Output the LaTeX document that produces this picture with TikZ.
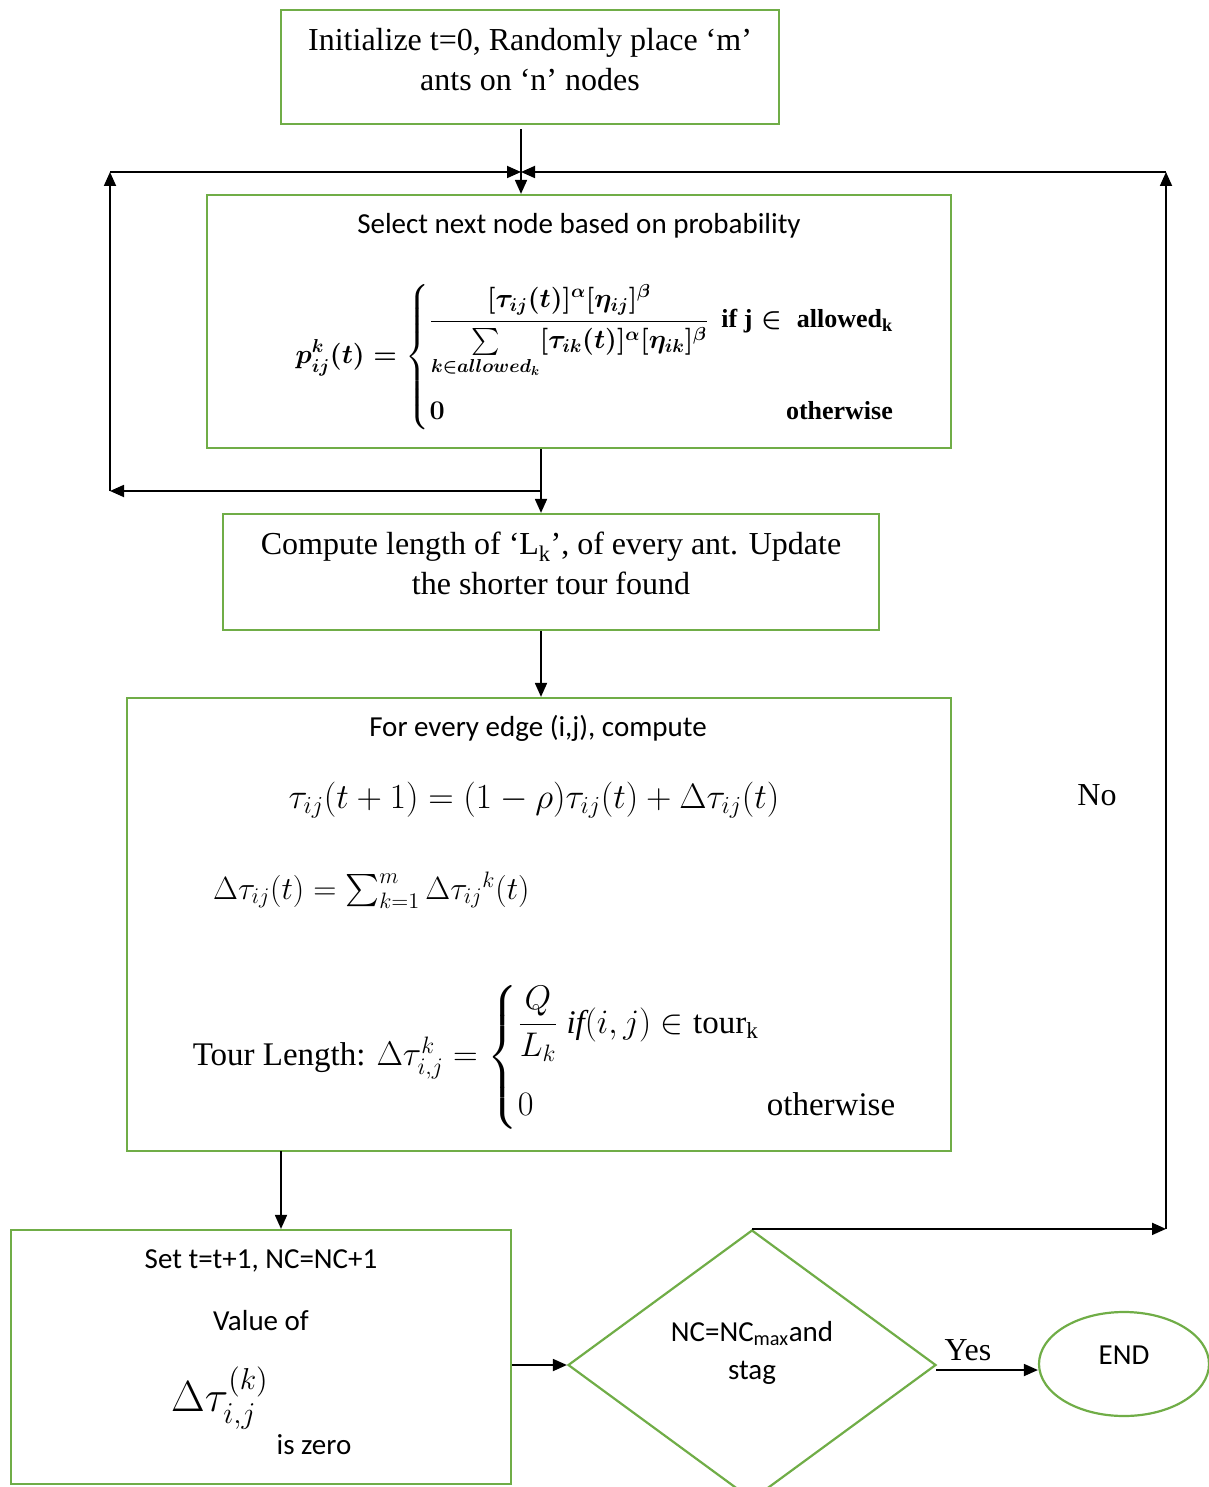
\documentclass[tikz,border=0pt]{standalone}
\usepackage{amsmath}
\usepackage{graphicx}
\usepackage{fontspec}
\setmainfont{Liberation Serif}
\newfontfamily\calfont{Carlito}
\usetikzlibrary{shapes.geometric,arrows.meta}
\newsavebox\fone
\newsavebox\ffour
\begin{document}
\sbox\fone{\fontsize{20}{24}\selectfont\boldmath$\displaystyle
 p^k_{ij}(t)=\left\{\begin{array}{@{}l@{\ \ }r@{}}
 \dfrac{[\tau_{ij}(t)]^\alpha[\eta_{ij}]^\beta}{\sum\limits_{k\in allowed_k}[\tau_{ik}(t)]^\alpha[\eta_{ik}]^\beta} & \textbf{if j}\in\textbf{ allowed}_\textbf{k}\\
 \rule{0pt}{32pt}\mathbf{0} & \textbf{otherwise}
 \end{array}\right.$}%
\sbox\ffour{\fontsize{20}{24}\selectfont Tour Length: $\Delta\tau^k_{i,j}=\left\{\begin{array}{@{}l@{\ }r@{}}
 \dfrac{Q}{L_k}\ \mathit{if}(i,j)\in\text{tour}_\text{k} & \\[26pt]
 0 & \text{otherwise}
 \end{array}\right.$}%
\begin{tikzpicture}[x=1pt,y=-1pt,
  gbox/.style={draw=grn,line width=2.2pt,inner sep=0pt},
  arr/.style={line width=1.8pt,-{Triangle[length=14pt,width=12pt]}},
  tms/.style={font=\fontsize{32}{40}\selectfont,align=center,inner sep=0pt},
  cbr/.style={font=\calfont\fontsize{29}{38}\selectfont,align=center,inner sep=0pt}]
\definecolor{grn}{RGB}{112,173,71}
\useasboundingbox (0,0) rectangle (1208,1487);
% boxes
\node[gbox,minimum width=498pt,minimum height=114pt] (init) at (530,67) {};
\node[tms] (initt) at (530,60) {Initialize t=0, Randomly place ‘m’\\ants on ‘n’ nodes};
\node[gbox,minimum width=744pt,minimum height=253pt] (sel) at (579,321.5) {};
\node[cbr] (selt) at (579,226) {Select next node based on probability};
\node[inner sep=0pt] (f1) at (595,357) {\scalebox{1.3}{\usebox\fone}};
\node[gbox,minimum width=656pt,minimum height=116pt] (comp) at (551,572) {};
\node[tms] (compt) at (551,563) {Compute length of ‘L\textsubscript{k}’, of every ant. Update\\the shorter tour found};
\node[gbox,minimum width=824pt,minimum height=453pt] (edge) at (539,924.5) {};
\node[cbr] (edget) at (538,728) {For every edge (i,j), compute};
\node[inner sep=0pt] (f2) at (534,800) {\scalebox{1.7}{\fontsize{20}{24}\selectfont$\tau_{ij}(t+1)=(1-\rho)\tau_{ij}(t)+\Delta\tau_{ij}(t)$}};
\node[inner sep=0pt,anchor=west] (f3) at (213,890) {\scalebox{1.55}{\fontsize{20}{24}\selectfont$\Delta\tau_{ij}(t)=\sum_{k=1}^{m}\Delta\tau_{ij}{}^{k}(t)$}};
\node[inner sep=0pt] (f4) at (545,1057) {\scalebox{1.65}{\usebox\ffour}};
\node[gbox,minimum width=500pt,minimum height=254pt] (set) at (261,1357) {};
\node[cbr] (sett1) at (261,1261) {Set t=t+1, NC=NC+1};
\node[cbr] (sett2) at (261,1321) {Value of};
\node[inner sep=0pt] (sett3) at (220,1398) {\scalebox{2.1}{\fontsize{20}{24}\selectfont$\Delta\tau^{(k)}_{i,j}$}};
\node[cbr] (sett4) at (314,1445) {is zero};
\node[draw=grn,line width=2.2pt,diamond,minimum width=368pt,minimum height=270pt,inner sep=0pt] (dia) at (752,1365) {};
\node[cbr] (diat) at (752,1353) {NC=NC\textsubscript{max}and\\stag};
\node[draw=grn,line width=2.2pt,ellipse,minimum width=170pt,minimum height=104pt,inner sep=0pt] (end) at (1124,1364) {};
\node[cbr] (endt) at (1124,1355) {END};
\node[tms] (no) at (1097,795) {No};
\node[tms] (yes) at (968,1350) {Yes};
% coordinates
\coordinate (jn) at (521,172);
\coordinate (cx) at (541,491);
\coordinate (L1) at (110,491);
\coordinate (L2) at (110,172);
\coordinate (R2) at (1166,172);
\coordinate (R1) at (dia.north -| R2);
\coordinate (sx) at (281,1151);
\coordinate (yx) at (936,1370);
% connectors
\draw[arr] ([yshift=-4pt]init.south -| jn) -- (sel.north -| jn);
\draw[arr] (sel.south -| cx) -- (comp.north -| cx);
\draw[arr] (cx) -- (L1);
\draw[arr] (L1) -- (L2);
\draw[arr] (L2) -- (jn);
\draw[arr] (dia.north) -- (R1);
\draw[arr] (R1) -- (R2);
\draw[arr] (R2) -- (jn);
\draw[arr] (comp.south -| cx) -- (edge.north -| cx);
\draw[arr] (sx) -- (set.north -| sx);
\draw[arr] (set.east |- dia.west) -- (dia.west);
\draw[arr] (yx) -- (end.west |- yx);
\end{tikzpicture}
\end{document}
